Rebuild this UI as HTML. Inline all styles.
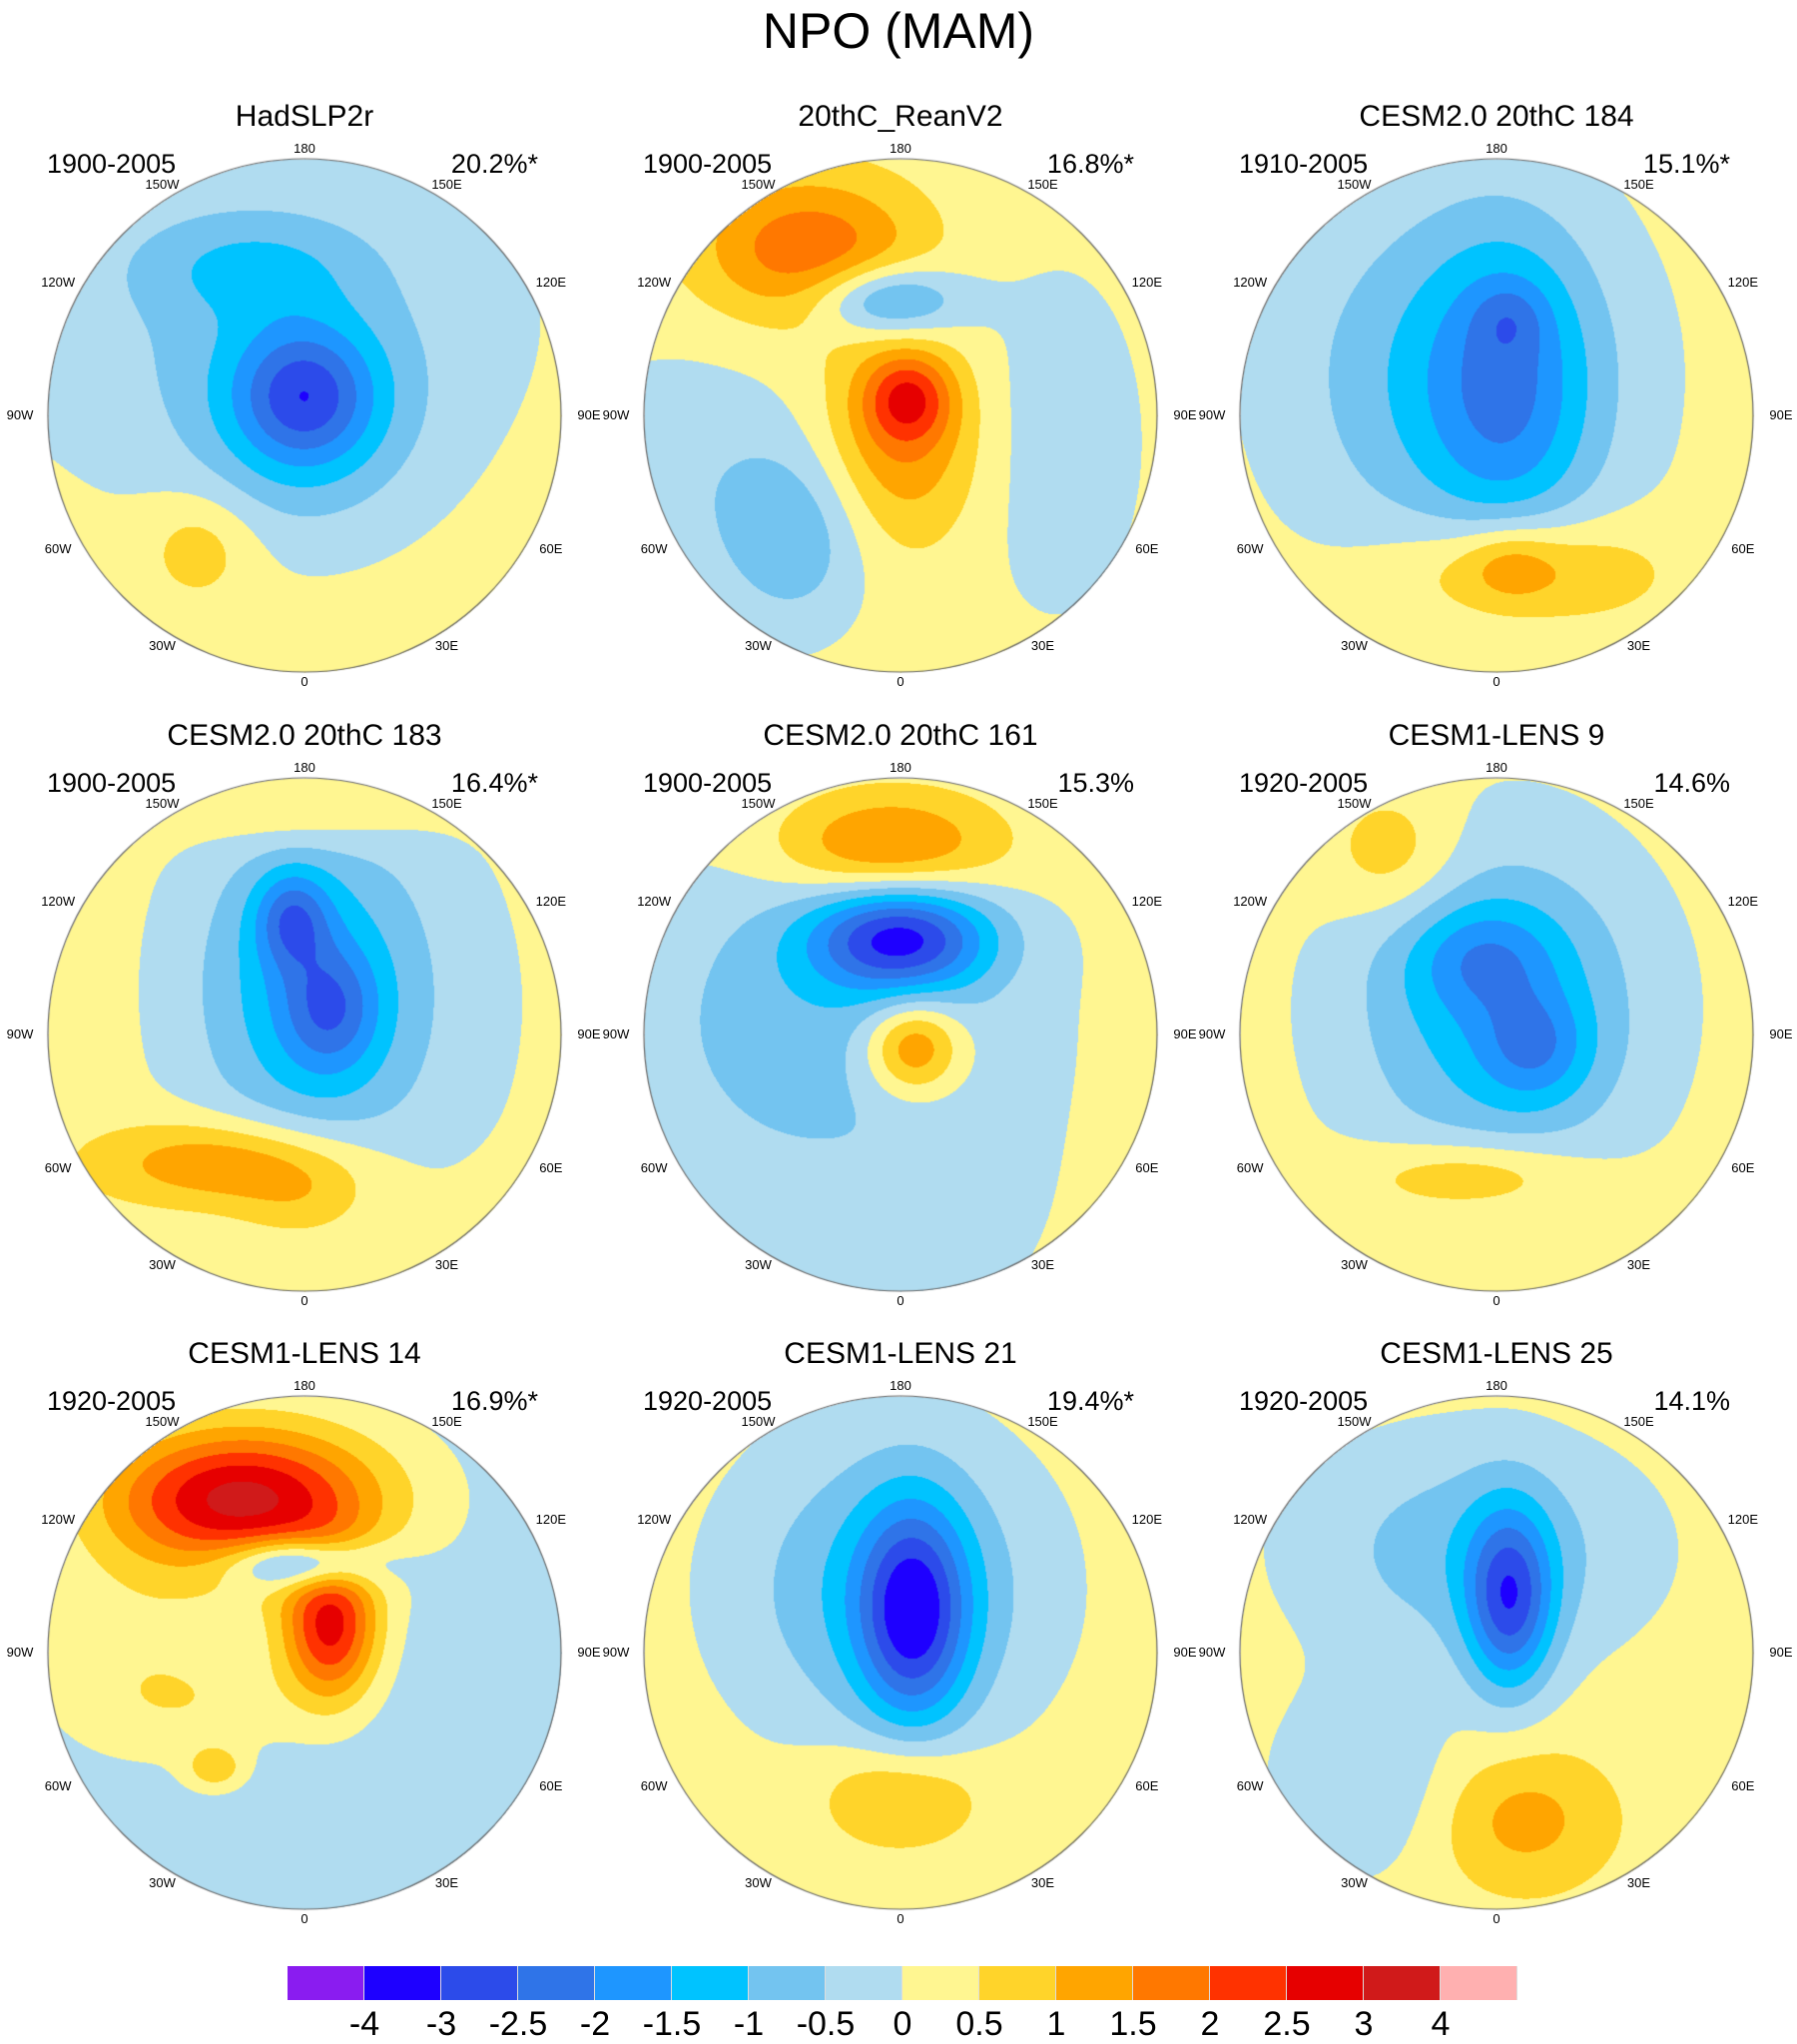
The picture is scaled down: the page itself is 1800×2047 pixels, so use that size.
<!DOCTYPE html>
<html><head><meta charset="utf-8"><style>
body{margin:0;background:#fff;width:1800px;height:2047px;position:relative;overflow:hidden;font-family:"Liberation Sans",sans-serif}
.t{position:absolute;white-space:nowrap;color:#000}
canvas{position:absolute}
</style></head><body>
<div class="t" style="left:0;width:1800px;text-align:center;top:2px;font-size:50px">NPO (MAM)</div>
<div id="root"></div>
<script>
const levels=[-4,-3,-2.5,-2,-1.5,-1,-0.5,0,0.5,1,1.5,2,2.5,3,4];
const colors=['#8a1cf0','#1e00ff','#2c4bea','#2f74e8','#1e96ff','#00c3ff','#73c4f0','#b0dcf0','#fff691','#ffd42a','#ffa500','#ff7800','#ff3200','#e60000','#d01a1a','#ffb0b0'];
const titles=['HadSLP2r','20thC_ReanV2','CESM2.0 20thC 184','CESM2.0 20thC 183','CESM2.0 20thC 161','CESM1-LENS 9','CESM1-LENS 14','CESM1-LENS 21','CESM1-LENS 25'];
const years=['1900-2005','1900-2005','1910-2005','1900-2005','1900-2005','1920-2005','1920-2005','1920-2005','1920-2005'];
const pcts=['20.2%*','16.8%*','15.1%*','16.4%*','15.3%','14.6%','16.9%*','19.4%*','14.1%'];
const bases=[0.2,0.2,0.2,0.2,0.15,0.2,-0.3,0.2,0.2];
// blobs: [u, v, amplitude(hPa), sigmaU, sigmaV]
const blobs=[
[[-0.2,-0.4,-0.7,0.7,0.5],[0,-0.08,-1.6,0.18,0.18],[0,0,-1.1,0.3,0.3],[-0.22,-0.58,-0.7,0.28,0.13],[-0.41,0.51,0.7,0.15,0.15]],
[[-0.36,-0.65,1.7,0.3,0.2],[-0.05,-0.45,-1.8,0.2,0.1],[0.03,-0.07,1.6,0.12,0.12],[0,0.1,1.3,0.22,0.28],[-0.41,0.47,-1.0,0.2,0.25],[-0.8,0.2,-0.5,0.35,0.35],[0.6,0.1,-0.5,0.25,0.5]],
[[-0.15,-0.15,-1.3,0.45,0.5],[0.05,-0.1,-1.3,0.22,0.42],[0.05,-0.38,-0.6,0.1,0.1],[0.1,0.6,1.2,0.35,0.15],[0.05,0.58,0.6,0.12,0.1]],
[[-0.05,-0.45,-1.5,0.1,0.13],[0.1,-0.1,-1.3,0.13,0.17],[0,-0.2,-1.2,0.3,0.45],[0.2,-0.1,-0.5,0.45,0.6],[0,-0.9,0.8,0.3,0.12],[-0.3,0.5,1.4,0.35,0.12],[0,0.65,0.7,0.2,0.12]],
[[-0.05,-0.73,1.6,0.3,0.15],[0,-0.38,-3,0.25,0.15],[-0.2,-0.1,-0.6,0.5,0.35],[0.05,0.05,1.8,0.13,0.13],[0,0.6,-0.4,0.4,0.4],[-0.6,0,-0.4,0.3,0.5]],
[[-0.4,-0.7,0.8,0.18,0.18],[0,-0.1,-1.5,0.4,0.45],[-0.05,-0.3,-1.0,0.2,0.15],[0.15,0.05,-1.1,0.15,0.15],[-0.1,0.55,1.0,0.3,0.1]],
[[-0.25,-0.6,2.7,0.35,0.18],[-0.2,-0.6,0.8,0.5,0.3],[0,-0.35,-2.2,0.2,0.07],[0.1,-0.1,2.8,0.13,0.2],[-0.35,0.45,1,0.08,0.06],[-0.7,0,0.5,0.3,0.3],[-0.4,0.2,0.5,0.3,0.15]],
[[0.05,-0.15,-2.6,0.15,0.3],[-0.05,-0.25,-1.3,0.4,0.4],[0,0.55,1.0,0.22,0.15]],
[[0.05,-0.2,-2.5,0.12,0.25],[-0.1,-0.4,-1,0.45,0.3],[-0.5,0.5,-0.7,0.25,0.25],[0.1,0.65,1,0.25,0.2]]
];
const lonLabels=['180','150E','120E','90E','60E','30E','0','30W','60W','90W','120W','150W'];
const cxs=[305,902,1499], cys=[416,1036,1655], R=257;
function colorOf(v){let i=0;while(i<levels.length&&v>=levels[i])i++;return colors[i];}
function hex(c){return [parseInt(c.slice(1,3),16),parseInt(c.slice(3,5),16),parseInt(c.slice(5,7),16)];}
const root=document.getElementById('root');
for(let p=0;p<9;p++){
  const cx=cxs[p%3], cy=cys[Math.floor(p/3)];
  const cv=document.createElement('canvas');
  
  
  cv.width=2*R+4;cv.height=2*R+4;
  cv.style.left=(cx-R-2)+'px';cv.style.top=(cy-R-2)+'px';
  root.appendChild(cv);
  const ctx=cv.getContext('2d');
  const img=ctx.createImageData(cv.width,cv.height);
  for(let y=0;y<cv.height;y++)for(let x=0;x<cv.width;x++){
    const u=(x-R-2)/R, v=(y-R-2)/R;
    if(u*u+v*v>1)continue;
    let val=bases[p];
    for(const b of blobs[p]){const du=(u-b[0])/b[3],dv=(v-b[1])/b[4];val+=b[2]*Math.exp(-0.5*(du*du+dv*dv));}
    const c=hex(colorOf(val));const k=4*(y*cv.width+x);
    img.data[k]=c[0];img.data[k+1]=c[1];img.data[k+2]=c[2];img.data[k+3]=255;
  }
  ctx.putImageData(img,0,0);
  ctx.beginPath();ctx.arc(R+2,R+2,R,0,2*Math.PI);ctx.strokeStyle='#666';ctx.lineWidth=1.2;ctx.stroke();
  const tt=document.createElement('div');tt.className='t';
  
  
  tt.textContent=titles[p];
  tt.style.cssText+=`left:${cx-300}px;width:600px;text-align:center;top:${cy-316}px;font-size:30px`;
  root.appendChild(tt);
  const yr=document.createElement('div');yr.className='t';
  
  
  yr.textContent=years[p];
  yr.style.cssText+=`left:${cx-258}px;top:${cy-267}px;font-size:27px`;
  root.appendChild(yr);
  const pc=document.createElement('div');pc.className='t';
  
  
  pc.textContent=pcts[p];
  pc.style.cssText+=`left:${cx+34}px;width:200px;text-align:right;top:${cy-267}px;font-size:27px`;
  root.appendChild(pc);
  for(let i=0;i<12;i++){
    const a=i*30*Math.PI/180;
    const lx=cx+285*Math.sin(a), ly=cy-267*Math.cos(a);
    const l=document.createElement('div');l.className='t';
    
    
    l.textContent=lonLabels[i];
    l.style.cssText+=`left:${lx-30}px;width:60px;text-align:center;top:${ly-8}px;font-size:13px`;
    root.appendChild(l);
  }
}
// colorbar
const cbX=288,cbW=77,cbY=1969,cbH=34;
for(let i=0;i<colors.length;i++){
  const d=document.createElement('div');
  
  
  d.style.cssText=`position:absolute;left:${cbX+i*cbW}px;top:${cbY}px;width:${cbW}px;height:${cbH}px;background:${colors[i]};border-right:1px solid #ddd;box-sizing:border-box`;
  root.appendChild(d);
}
for(let i=0;i<levels.length;i++){
  const l=document.createElement('div');l.className='t';
  
  
  l.textContent=levels[i];
  l.style.cssText+=`left:${cbX+(i+1)*cbW-40}px;width:80px;text-align:center;top:2008px;font-size:34px`;
  root.appendChild(l);
}
</script>
</body></html>
